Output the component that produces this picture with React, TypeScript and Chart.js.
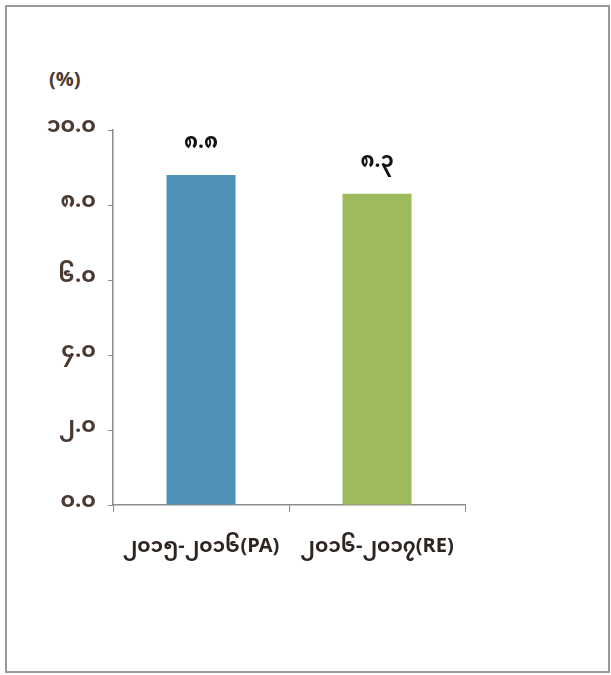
import React, { useEffect, useRef } from "react";
import { Chart, registerables } from "chart.js";

Chart.register(...registerables);

const categories = ["၂၀၁၅-၂၀၁၆(PA)", "၂၀၁၆-၂၀၁၇(RE)"];
const values = [8.8, 8.3];
const valueLabels = ["၈.၈", "၈.၃"];
const yTickValues = [0, 2, 4, 6, 8, 10];
const yTickLabels = ["၀.၀", "၂.၀", "၄.၀", "၆.၀", "၈.၀", "၁၀.၀"];
const barColors = ["#4f91b7", "#9dba5c"];
const unitLabel = "(%)";

const FONT = "'Noto Sans Myanmar', 'Noto Sans', sans-serif";

const valueLabelPlugin = {
  id: "valueLabels",
  afterDatasetsDraw(chart: any) {
    const ctx = chart.ctx;
    const meta = chart.getDatasetMeta(0);
    ctx.save();
    ctx.font = `bold 21px ${FONT}`;
    ctx.fillStyle = "#111111";
    ctx.textAlign = "center";
    ctx.textBaseline = "middle";
    meta.data.forEach((bar: any, i: number) => {
      ctx.fillText(valueLabels[i], bar.x, bar.y - 29);
    });
    ctx.restore();
  },
};

export default function App() {
  const ref = useRef<HTMLCanvasElement>(null);
  useEffect(() => {
    if (!ref.current) return;
    const chart = new Chart(ref.current, {
      type: "bar",
      data: {
        labels: categories,
        datasets: [
          {
            data: values,
            backgroundColor: barColors,
            borderWidth: 0,
            categoryPercentage: 0.8,
            barPercentage: 0.49,
          },
        ],
      },
      options: {
        responsive: false,
        animation: false,
        devicePixelRatio: 1,
        layout: { padding: { left: 0, right: 146, top: 130, bottom: 100 } },
        plugins: {
          legend: { display: false },
          tooltip: { enabled: false },
          title: { display: false },
        },
        scales: {
          x: {
            grid: {
              display: true,
              drawOnChartArea: false,
              drawTicks: true,
              tickLength: 7,
              color: "#8c8c8c",
              offset: true,
            },
            border: { display: true, color: "#8c8c8c", width: 1.5 },
            ticks: {
              color: "#2e2420",
              font: { family: FONT, size: 20, weight: "bold" },
              padding: 26,
              maxRotation: 0,
              autoSkip: false,
            },
            afterFit(scale: any) {
              scale.height = 70;
            },
          },
          y: {
            min: 0,
            max: 10,
            afterBuildTicks(scale: any) {
              scale.ticks = yTickValues.map((v) => ({ value: v }));
            },
            grid: {
              display: true,
              drawOnChartArea: false,
              drawTicks: true,
              tickLength: 5,
              color: "#8c8c8c",
            },
            border: { display: true, color: "#8c8c8c", width: 1.5 },
            ticks: {
              color: "#4b3a31",
              font: { family: FONT, size: 22, weight: "bold" },
              padding: 12,
              callback: (v: any) => {
                const idx = yTickValues.indexOf(Number(v));
                return idx >= 0 ? yTickLabels[idx] : "";
              },
            },
            afterFit(scale: any) {
              scale.width = 113;
            },
          },
        },
      },
      plugins: [valueLabelPlugin],
    });
    return () => chart.destroy();
  }, []);

  return (
    <div
      style={{
        position: "fixed",
        left: 0,
        top: 0,
        width: 611,
        height: 675,
        background: "#ffffff",
        overflow: "hidden",
      }}
    >
      <div
        style={{
          position: "absolute",
          left: 5,
          top: 5,
          width: 601,
          height: 664,
          border: "2px solid #9a9a9a",
          boxSizing: "content-box",
        }}
      />
      <div
        style={{
          position: "absolute",
          left: 49,
          top: 68,
          fontFamily: FONT,
          fontWeight: "bold",
          fontSize: 20,
          color: "#4b3a31",
          lineHeight: "28px",
        }}
      >
        {unitLabel}
      </div>
      <canvas
        ref={ref}
        width={611}
        height={675}
        style={{ position: "absolute", left: 0, top: 0, width: 611, height: 675 }}
      />
    </div>
  );
}
